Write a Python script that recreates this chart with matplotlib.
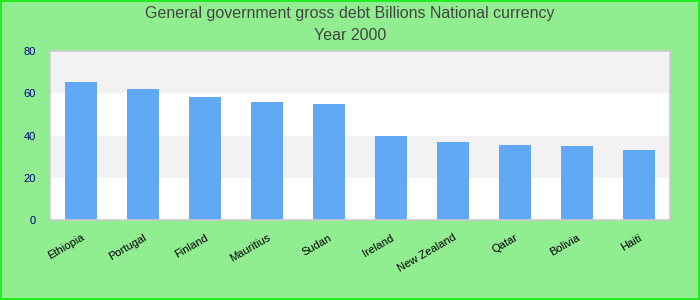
import matplotlib
matplotlib.use("Agg")
import matplotlib.pyplot as plt

# veri
countries = ["Ethiopia", "Portugal", "Finland", "Mauritius", "Sudan",
             "Ireland", "New Zealand", "Qatar", "Bolivia", "Haiti"]
debt = [65.1, 61.9, 58.1, 55.7, 54.8, 40.0, 36.7, 35.7, 34.8, 32.9]

plt.rcParams["font.family"] = ["Liberation Sans", "DejaVu Sans"]

fig = plt.figure(figsize=(7, 3), dpi=100, facecolor="#90ee90",
                 edgecolor="#22ee22", linewidth=1.5)
ax = fig.add_axes([50/700, 80/300, 620/700, 169/300])
ax.set_facecolor("white")

# alternating bands
for lo, hi, c in [(0, 20, "white"), (20, 40, "#f2f2f2"),
                  (40, 60, "white"), (60, 80, "#f2f2f2")]:
    ax.axhspan(lo, hi, color=c, zorder=0, lw=0)

x = range(len(countries))
ax.bar(x, debt, width=0.52, color="#61a8f5", zorder=2)

ax.set_xlim(-0.5, len(countries) - 0.5)
ax.set_ylim(0, 80)
ax.set_yticks([0, 20, 40, 60, 80])
ax.set_xticks(list(x))
ax.set_xticklabels(countries, rotation=30, ha="right", fontsize=8,
                   rotation_mode="anchor")
for lbl in ax.get_xticklabels():
    lbl.set_x(lbl.get_position()[0])
ax.tick_params(axis="y", colors="#00008b", labelsize=8, length=0, pad=10)
ax.tick_params(axis="x", length=0, pad=9)
for s in ax.spines.values():
    s.set_color("#cccccc")
    s.set_linewidth(1.2)

fig.text(0.5, 0.955, "General government gross debt Billions National currency",
         ha="center", va="center", fontsize=11.5, color="#444444")
fig.text(0.5, 0.88, "Year 2000", ha="center", va="center",
         fontsize=11.5, color="#444444")

fig.savefig("out.png", dpi=100, facecolor=fig.get_facecolor(),
            edgecolor=fig.get_edgecolor())
